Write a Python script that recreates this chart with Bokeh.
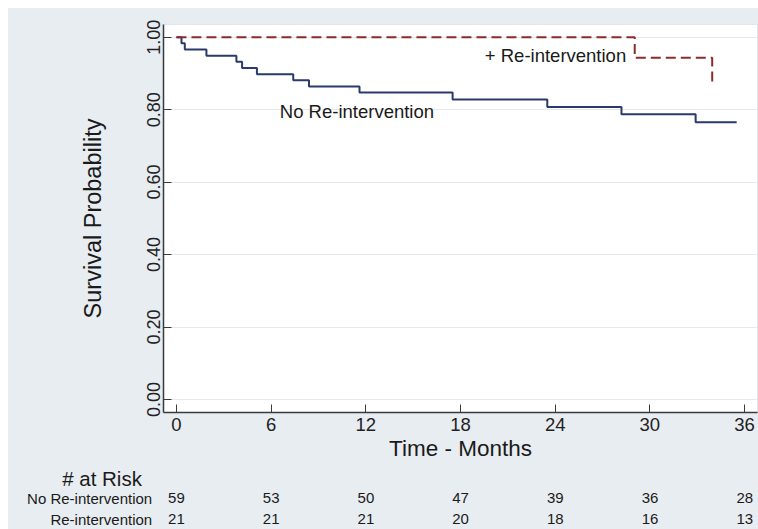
from bokeh.plotting import figure
from bokeh.models import Range1d, FixedTicker, PrintfTickFormatter, Label, ColumnDataSource, Spacer
from bokeh.layouts import column, row
from bokeh.core.properties import value
from bokeh.embed import file_html
from bokeh.resources import INLINE

# Kaplan-Meier step data
no_reint_t = [0, 0.32, 0.53, 1.9, 3.8, 4.16, 5.1, 7.4, 8.4, 11.6, 17.5, 23.5, 28.2, 32.9, 35.5]
no_reint_s = [1.0, 0.983, 0.966, 0.949, 0.932, 0.915, 0.898, 0.881, 0.864, 0.847, 0.828, 0.807, 0.787, 0.765, 0.765]
reint_t = [0, 29.04, 33.95]
reint_s = [1.0, 0.943, 0.871]

x_ticks = [0, 6, 12, 18, 24, 30, 36]
y_ticks = [0.0, 0.2, 0.4, 0.6, 0.8, 1.0]
risk_times = [0, 6, 12, 18, 24, 30, 36]
risk_no_reint = [59, 53, 50, 47, 39, 36, 28]
risk_reint = [21, 21, 21, 20, 18, 16, 13]
row_labels = ["No Re-intervention", "Re-intervention"]

FONT = "Liberation Sans"
BG = "#e8edf1"
TXT = "#1a1a1a"

X_RANGE = (-0.82, 36.82)

p = figure(width=750, height=460, output_backend="svg", toolbar_location=None,
           x_range=Range1d(*X_RANGE), y_range=Range1d(-0.036, 1.035),
           min_border_left=155, min_border_right=1, min_border_top=16, min_border_bottom=56)
p.border_fill_color = BG
p.background_fill_color = "white"
p.outline_line_color = "#dfe6ec"

p.xgrid.visible = False
p.ygrid.ticker = FixedTicker(ticks=y_ticks)
p.ygrid.grid_line_color = "#e3e9ee"
p.ygrid.grid_line_width = 1

for ax in (p.xaxis[0], p.yaxis[0]):
    ax.axis_line_color = "#3a3a3a"
    ax.axis_line_width = 1.5
    ax.major_tick_line_color = "#3a3a3a"
    ax.major_tick_in = 8
    ax.major_tick_out = 0
    ax.minor_tick_line_color = None
    ax.major_label_text_font = FONT
    ax.major_label_text_color = "#222222"
    ax.axis_label_text_font = FONT
    ax.axis_label_text_font_style = "normal"
    ax.axis_label_text_color = TXT

p.xaxis.ticker = FixedTicker(ticks=x_ticks)
p.xaxis.major_label_text_font_size = "18.5px"
p.xaxis.major_label_standoff = 5
p.xaxis.axis_label = "Time - Months"
p.xaxis.axis_label_text_font_size = "22.5px"
p.xaxis.axis_label_standoff = 2

p.yaxis.ticker = FixedTicker(ticks=y_ticks)
p.yaxis.formatter = PrintfTickFormatter(format="%.2f")
p.yaxis.major_label_orientation = "vertical"
p.yaxis.major_label_text_font_size = "18px"
p.yaxis.major_label_standoff = 3
p.yaxis.axis_label = "Survival Probability"
p.yaxis.axis_label_text_font_size = "23.5px"
p.yaxis.axis_label_standoff = 39

p.step(no_reint_t, no_reint_s, mode="after", line_color="#2a3a6c", line_width=2)
p.step(reint_t, reint_s, mode="after", line_color="#8c2b2b", line_width=2, line_dash="10 5")

p.add_layout(Label(x=6.55, y=0.7957, text="No Re-intervention", text_font=FONT,
                   text_font_size="18.5px", text_color=TXT, text_baseline="middle"))
p.add_layout(Label(x=19.54, y=0.9495, text="+ Re-intervention", text_font=FONT,
                   text_font_size="18.5px", text_color=TXT, text_baseline="middle"))

# number-at-risk table: its own panel sharing the time scale (0 and 36 aligned with the axis ticks)
TBL_H = 61
t_table = figure(width=750, height=TBL_H, output_backend="svg", toolbar_location=None,
                 x_range=Range1d(-10.64, 36.87), y_range=Range1d(2.498, -0.449),
                 x_axis_type=None, y_axis_type=None,
                 min_border_left=0, min_border_right=0, min_border_top=0, min_border_bottom=0)
t_table.border_fill_color = BG
t_table.background_fill_color = BG
t_table.outline_line_color = None

t_table.text(x=[-7.24], y=[0.048], text=["# at Risk"], text_font=value(FONT),
             text_font_size="20.5px", text_color=TXT, text_baseline="middle", text_align="left")
t_table.text(x=[-1.54, -1.54], y=[1, 2], text=row_labels, text_font=value(FONT),
             text_font_size="15px", text_color=TXT, text_baseline="middle", text_align="right")

src = ColumnDataSource(dict(
    x=risk_times + risk_times,
    y=[1] * len(risk_times) + [2] * len(risk_times),
    txt=[str(v) for v in risk_no_reint] + [str(v) for v in risk_reint],
))
t_table.text(x="x", y="y", text="txt", source=src, text_font=value(FONT),
             text_font_size="15px", text_color=TXT, text_baseline="middle", text_align="center")

white = {"background-color": "white"}
layout = column(
    Spacer(height=8, width=758, styles=white),
    row(Spacer(width=8, height=460, styles=white), p, spacing=0),
    row(Spacer(width=8, height=TBL_H, styles=white), t_table, spacing=0),
    spacing=0, styles={"background-color": BG},
)

open("out.html", "w").write(file_html(layout, INLINE))
